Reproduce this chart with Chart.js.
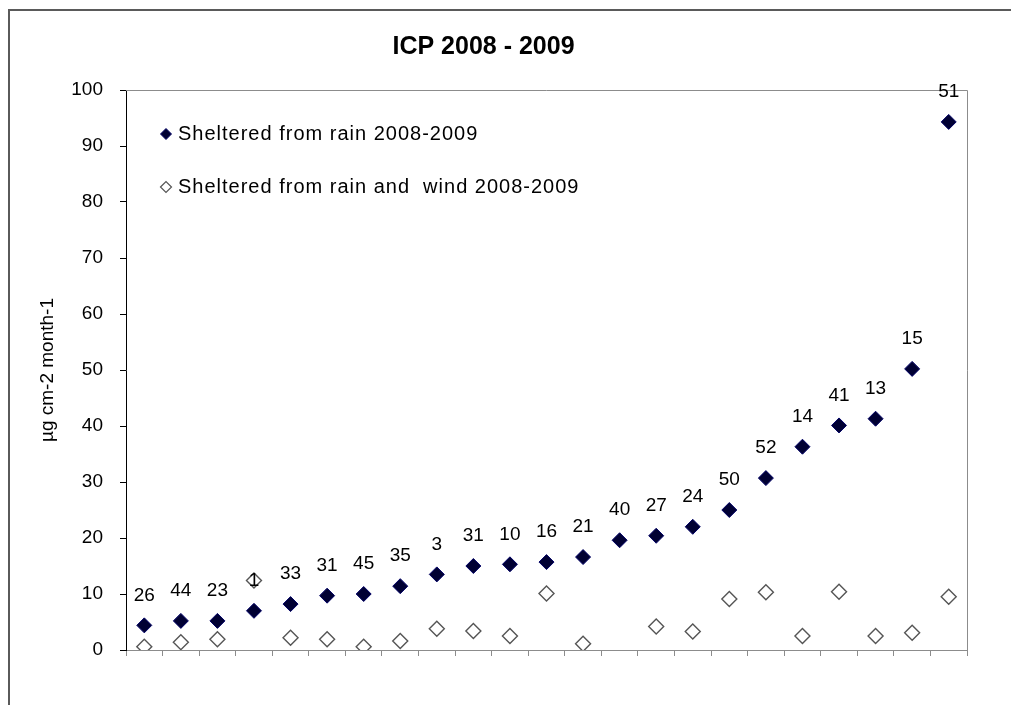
<!DOCTYPE html>
<html>
<head>
<meta charset="utf-8">
<script src="https://cdn.jsdelivr.net/npm/chart.js@4/dist/chart.umd.min.js"></script>
<style>
html,body{margin:0;padding:0;background:#fff;}
#wrap{width:1011px;height:705px;position:relative;}
</style>
</head>
<body>
<div id="wrap"><canvas id="c" width="1011" height="705"></canvas></div>
<script>
// Site numbers shown above the filled markers (categories)
const sites = ["26","44","23","1","33","31","45","35","3","31","10","16","21","40","27","24","50","52","14","41","13","15","51"];
// Sheltered from rain 2008-2009
const shelteredRain = [4.4,5.2,5.2,7.0,8.2,9.7,10.0,11.4,13.5,15.0,15.3,15.7,16.6,19.6,20.4,22.0,25.0,30.7,36.3,40.1,41.3,50.2,94.3];
// Sheltered from rain and wind 2008-2009
const shelteredRainWind = [0.6,1.4,1.9,12.4,2.2,1.9,0.6,1.6,3.8,3.4,2.5,10.1,1.1,null,4.2,3.3,9.1,10.3,2.5,10.4,2.5,3.1,9.5];
const yTicks = [0,10,20,30,40,50,60,70,80,90,100];
const seriesNames = ["Sheltered from rain 2008-2009","Sheltered from rain and  wind 2008-2009"];
const chartTitle = "ICP 2008 - 2009";
const yTitle = "\u00b5g cm-2 month-1";

const FONT = "'Liberation Sans', Arial, sans-serif";

function diamond(ctx, x, y, r, fill, stroke, lw){
  ctx.beginPath();
  ctx.moveTo(x - r, y); ctx.lineTo(x, y - r); ctx.lineTo(x + r, y); ctx.lineTo(x, y + r); ctx.closePath();
  ctx.fillStyle = fill; ctx.fill();
  ctx.lineWidth = lw; ctx.strokeStyle = stroke; ctx.stroke();
}

const framePlugin = {
  id: 'frame',
  beforeDraw(chart){
    const ctx = chart.ctx;
    ctx.save();
    ctx.strokeStyle = '#5a5a5a'; ctx.lineWidth = 2;
    ctx.beginPath(); ctx.moveTo(9, 705); ctx.lineTo(9, 10); ctx.lineTo(1011, 10); ctx.stroke();
    ctx.restore();
  },
  afterDraw(chart){
    const ctx = chart.ctx, a = chart.chartArea;
    ctx.save();
    ctx.strokeStyle = '#8c8c8c'; ctx.lineWidth = 1;
    ctx.beginPath();
    ctx.moveTo(a.left, Math.round(a.top) + 0.5); ctx.lineTo(Math.round(a.right) + 0.5, Math.round(a.top) + 0.5);
    ctx.lineTo(Math.round(a.right) + 0.5, a.bottom);
    ctx.stroke();
    // legend
    ctx.font = "20px " + FONT; ctx.textBaseline = 'middle'; ctx.textAlign = 'left';
    try { ctx.letterSpacing = '1px'; } catch(e) {}
    diamond(ctx, 166, 134, 5.5, '#000033', '#000066', 1);
    ctx.fillStyle = '#000'; ctx.fillText(seriesNames[0], 178, 134);
    diamond(ctx, 166, 187, 5.5, '#ffffff', '#555555', 1.2);
    ctx.fillStyle = '#000'; ctx.fillText(seriesNames[1], 178, 187);
    try { ctx.letterSpacing = '0px'; } catch(e) {}
    // data labels
    const meta = chart.getDatasetMeta(0);
    ctx.font = "19px " + FONT; ctx.textAlign = 'center';
    meta.data.forEach((pt, i) => { ctx.fillText(sites[i], pt.x, pt.y - 30); });
    ctx.restore();
  }
};

new Chart(document.getElementById('c'), {
  type: 'line',
  data: {
    labels: sites,
    datasets: [
      { label: seriesNames[0], data: shelteredRain, showLine: false, pointStyle: 'rectRot',
        pointRadius: 7.5, pointHoverRadius: 7.5, backgroundColor: '#000033', borderColor: '#000066', pointBorderWidth: 1, order: 1 },
      { label: seriesNames[1], data: shelteredRainWind, showLine: false, pointStyle: 'rectRot',
        pointRadius: 7.5, pointHoverRadius: 7.5, backgroundColor: '#ffffff', borderColor: '#555555', pointBorderWidth: 1.4, order: 2 }
    ]
  },
  options: {
    responsive: false, animation: false, devicePixelRatio: 1,
    layout: { padding: { left: 0, right: 44, top: 0, bottom: 0 } },
    plugins: {
      legend: { display: false },
      tooltip: { enabled: false },
      title: { display: true, text: chartTitle, color: '#000',
        font: { family: FONT, size: 25, weight: 'bold', lineHeight: 1.2 }, padding: { top: 32, bottom: 28 } }
    },
    scales: {
      x: {
        type: 'category', offset: true,
        grid: { offset: true, drawOnChartArea: false, drawTicks: true, tickLength: 6, color: '#8c8c8c' },
        border: { display: true, color: '#8c8c8c', width: 1 },
        ticks: { display: false },
        afterFit(s){ s.height = 55; }
      },
      y: {
        min: 0, max: 100,
        afterBuildTicks(s){ s.ticks = yTicks.map(v => ({ value: v })); },
        grid: { drawOnChartArea: false, drawTicks: true, tickLength: 6, color: '#000' },
        border: { display: true, color: '#000', width: 1 },
        ticks: { color: '#000', padding: 17, font: { family: FONT, size: 19 } },
        title: { display: true, text: yTitle, color: '#000', font: { family: FONT, size: 19, lineHeight: 1.2 }, padding: { top: 36, bottom: 0 } },
        afterFit(s){ s.width = 126; }
      }
    }
  },
  plugins: [framePlugin]
});
</script>
</body>
</html>
